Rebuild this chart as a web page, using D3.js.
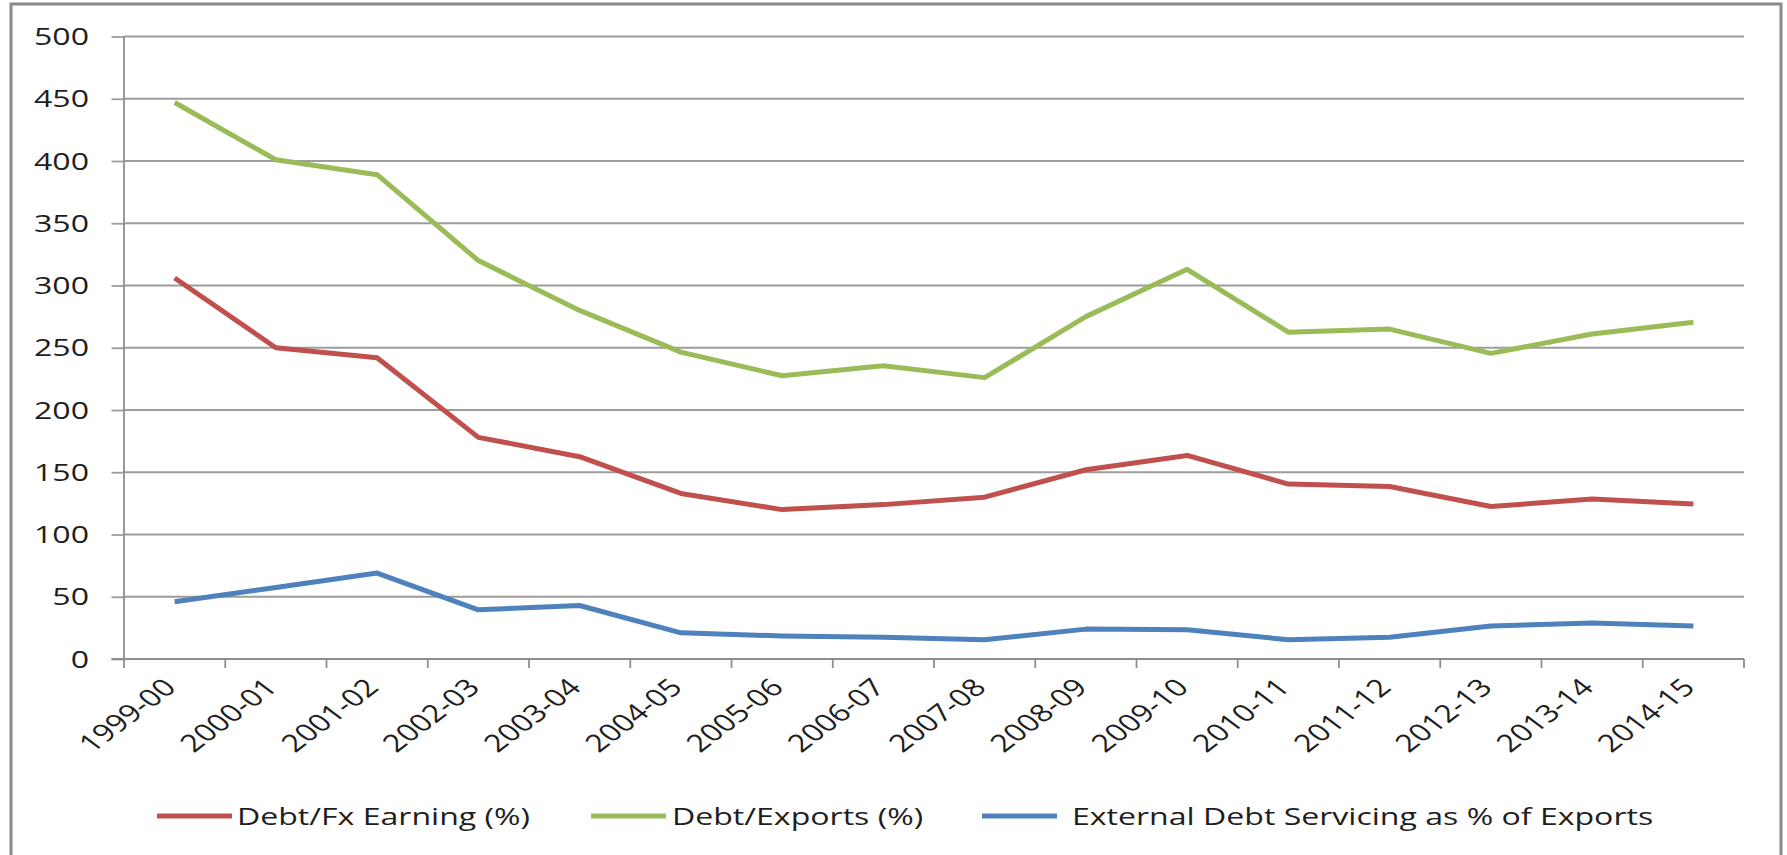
<!DOCTYPE html>
<html><head><meta charset="utf-8">
<script src="https://cdn.jsdelivr.net/npm/d3@7"></script>
<style>
body{margin:0;background:#fff}
svg text{font-family:"Open Sans",sans-serif;fill:#1e1e1e}
</style>
</head><body>
<svg id="c" width="1787" height="855"></svg>
<script>
const categories = ["1999-00","2000-01","2001-02","2002-03","2003-04","2004-05","2005-06","2006-07","2007-08","2008-09","2009-10","2010-11","2011-12","2012-13","2013-14","2014-15"];
const debtFxEarning = [306,250,242,178,162.5,133,120,124,130,152,163.5,140.5,138.5,122.5,128.5,124.5];
const debtExports = [447,401,389,320,280,246.5,227.5,235.5,226,275,313,262.5,265,245.5,261,270.5];
const debtServicing = [46,57.5,69,39.5,43,21,18.5,17.5,15.5,24,23.5,15.5,17.5,26.5,29,26.5];
const yTicks = [0,50,100,150,200,250,300,350,400,450,500];
const seriesNames = ["Debt/Fx Earning (%)","Debt/Exports (%)","External Debt Servicing as % of Exports"];
const seriesColors = ["#C0504D","#9BBB59","#4F81BD"];

const SX = 1.32;      // horizontal stretch of the original picture
const FS = 24.3;
const pL = 124, pR = 1744, pT = 36.5, pB = 659;

const svg = d3.select("#c");
// outer frame
svg.append("rect").attr("x",11).attr("y",4).attr("width",1770).attr("height",900)
  .attr("fill","#fff").attr("stroke","#8a8a8a").attr("stroke-width",3);

const x = d3.scaleBand().domain(categories).range([pL,pR]).padding(0);
const y = d3.scaleLinear().domain([0,500]).range([pB,pT]);

// y ticks (outer)
const yAxis = d3.axisLeft(y).tickValues(yTicks).tickSize(12.5).tickFormat("");
const gy = svg.append("g").attr("transform",`translate(${pL},0)`).call(yAxis);
gy.select(".domain").remove();
gy.selectAll(".tick line").attr("stroke","#9c9c9c").attr("stroke-width",1.8);
// gridlines
svg.append("g").selectAll("line").data(yTicks).join("line")
  .attr("x1",pL).attr("x2",pR).attr("y1",d=>y(d)).attr("y2",d=>y(d))
  .attr("stroke","#9c9c9c").attr("stroke-width",1.8);

// y labels
svg.append("g").selectAll("text").data(yTicks).join("text")
  .attr("transform",d=>`translate(89,${y(d)}) scale(${SX},1)`)
  .attr("text-anchor","end").attr("dy","0.35em").attr("font-size",FS)
  .text(d=>d);

// y axis line
svg.append("line").attr("x1",pL).attr("x2",pL).attr("y1",pT).attr("y2",pB)
  .attr("stroke","#8e8e8e").attr("stroke-width",1.8);

// x axis with ticks at band boundaries
const bounds = categories.map(c=>x(c)).concat([pR]);
svg.append("line").attr("x1",pL-12.5).attr("x2",pR).attr("y1",pB).attr("y2",pB)
  .attr("stroke","#8e8e8e").attr("stroke-width",1.8);
svg.append("g").selectAll("line").data(bounds).join("line")
  .attr("x1",d=>d).attr("x2",d=>d).attr("y1",pB).attr("y2",pB+9)
  .attr("stroke","#8e8e8e").attr("stroke-width",1.8);

// x labels
svg.append("g").selectAll("text").data(categories).join("text")
  .attr("transform",d=>`translate(${x(d)+x.bandwidth()/2+3},${pB+30}) scale(${SX},1) rotate(-45)`)
  .attr("text-anchor","end").attr("font-size",FS)
  .text(d=>d);

// series lines
const series = [debtFxEarning, debtExports, debtServicing];
const line = d3.line().x((d,i)=>x(categories[i])+x.bandwidth()/2).y(d=>y(d));
svg.append("g").selectAll("path").data(series).join("path")
  .attr("d",d=>line(d)).attr("fill","none")
  .attr("stroke",(d,i)=>seriesColors[i]).attr("stroke-width",5)
  .attr("stroke-linejoin","round").attr("stroke-linecap","butt");

// legend
const legendY = 816;
const legendItems = [
  {lx:157, tx:237},
  {lx:591, tx:672},
  {lx:982, tx:1072}
];
const lg = svg.append("g");
legendItems.forEach((p,i)=>{
  lg.append("line").attr("x1",p.lx).attr("x2",p.lx+75).attr("y1",legendY).attr("y2",legendY)
    .attr("stroke",seriesColors[i]).attr("stroke-width",5);
  lg.append("text").attr("transform",`translate(${p.tx},${legendY}) scale(${SX},1)`)
    .attr("dy","0.35em").attr("font-size",FS).text(seriesNames[i]);
});
</script>
</body></html>
